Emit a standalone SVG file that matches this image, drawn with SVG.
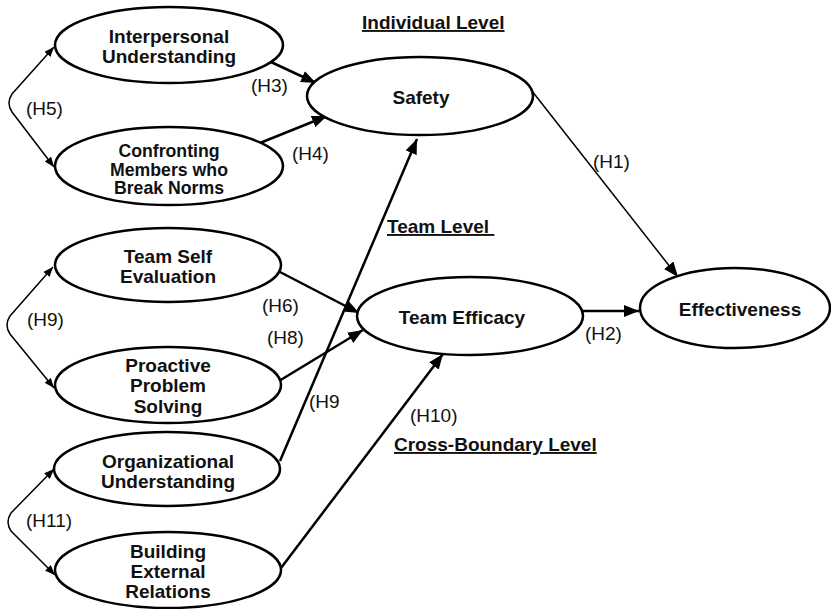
<svg xmlns="http://www.w3.org/2000/svg" width="831" height="609" viewBox="0 0 831 609">
<style>
.node ellipse{fill:#fff;stroke:#000;stroke-width:2.5}
.nt{font-family:"Liberation Sans",Arial,sans-serif;font-weight:bold;font-size:19px;text-anchor:middle;fill:#111}
.lb{font-family:"Liberation Sans",Arial,sans-serif;font-size:19px;fill:#111}
.hd{font-family:"Liberation Sans",Arial,sans-serif;font-weight:bold;font-size:19px;fill:#111;text-decoration:underline;white-space:pre}
.c{fill:none;stroke:#000;stroke-width:2.5}
.thin{fill:none;stroke:#000;stroke-width:1.5}
</style>
<defs>
<marker id="ah" markerUnits="userSpaceOnUse" markerWidth="16" markerHeight="12" refX="15" refY="6" orient="auto"><path d="M0,0 L15,6 L0,12 z" fill="#000"/></marker>
<marker id="ahs" markerUnits="userSpaceOnUse" markerWidth="10" markerHeight="8" refX="10" refY="4" orient="auto-start-reverse"><path d="M0,0 L10,4 L0,8 z" fill="#000"/></marker>
</defs>
<rect width="831" height="609" fill="#fff"/>
<g id="connectors">
<line class="c" x1="271" y1="62" x2="316" y2="83" marker-end="url(#ah)"/>
<line class="c" x1="260" y1="143" x2="327" y2="116" marker-end="url(#ah)"/>
<line class="c" x1="280" y1="461" x2="417" y2="139" marker-end="url(#ah)"/>
<line class="thin" x1="532" y1="91" x2="678" y2="277" marker-end="url(#ah)"/>
<line class="c" x1="583" y1="311" x2="639" y2="311" marker-end="url(#ah)"/>
<line class="c" x1="280" y1="272" x2="359" y2="313" marker-end="url(#ah)"/>
<line class="c" x1="279" y1="381" x2="363" y2="330" marker-end="url(#ah)"/>
<line class="c" x1="281" y1="568" x2="443" y2="354" marker-end="url(#ah)"/>
<path class="thin" d="M54,47 L12,94 Q6,103 12,112 L54,167" marker-start="url(#ahs)" marker-end="url(#ahs)"/>
<path class="thin" d="M53,267 L10,316 Q4,325 10,334 L54,388" marker-start="url(#ahs)" marker-end="url(#ahs)"/>
<path class="thin" d="M54,469 L11,513 Q5,522 11,531 L55,575" marker-start="url(#ahs)" marker-end="url(#ahs)"/>
</g>
<g id="interpersonal" class="node"><ellipse cx="169" cy="45" rx="114" ry="38"/><text class="nt" x="169" y="43">Interpersonal</text><text class="nt" x="169" y="63">Understanding</text></g>
<g id="confronting" class="node"><ellipse cx="169" cy="166" rx="114" ry="39"/><text class="nt" x="169" y="157" style="font-size:17.7px">Confronting</text><text class="nt" x="169" y="176" style="font-size:17.7px">Members who</text><text class="nt" x="169" y="194" style="font-size:17.7px">Break Norms</text></g>
<g id="safety" class="node"><ellipse cx="420" cy="96" rx="113" ry="39"/><text class="nt" x="421" y="104">Safety</text></g>
<g id="effectiveness" class="node"><ellipse cx="735" cy="308" rx="95" ry="40"/><text class="nt" x="740" y="316">Effectiveness</text></g>
<g id="teamefficacy" class="node"><ellipse cx="470" cy="316" rx="113" ry="39"/><text class="nt" x="462" y="324">Team Efficacy</text></g>
<g id="teamself" class="node"><ellipse cx="168" cy="265" rx="113" ry="37"/><text class="nt" x="168" y="263">Team Self</text><text class="nt" x="168" y="283">Evaluation</text></g>
<g id="proactive" class="node"><ellipse cx="168" cy="385" rx="113" ry="38"/><text class="nt" x="168" y="372">Proactive</text><text class="nt" x="168" y="392">Problem</text><text class="nt" x="168" y="413">Solving</text></g>
<g id="organizational" class="node"><ellipse cx="167" cy="469" rx="113" ry="37"/><text class="nt" x="168" y="468">Organizational</text><text class="nt" x="168" y="488">Understanding</text></g>
<g id="building" class="node"><ellipse cx="168" cy="570" rx="113" ry="38"/><text class="nt" x="168" y="558">Building</text><text class="nt" x="168" y="578">External</text><text class="nt" x="168" y="598">Relations</text></g>
<g id="labels">
<text class="lb" x="251" y="92">(H3)</text>
<text class="lb" x="26" y="115">(H5)</text>
<text class="lb" x="292" y="160">(H4)</text>
<text class="lb" x="593" y="168">(H1)</text>
<text class="lb" x="585" y="340">(H2)</text>
<text class="lb" x="262" y="312">(H6)</text>
<text class="lb" x="267" y="344">(H8)</text>
<text class="lb" x="27" y="326">(H9)</text>
<text class="lb" x="309" y="408">(H9</text>
<text class="lb" x="410" y="422">(H10)</text>
<text class="lb" x="26" y="527">(H11)</text>
<text class="hd" x="362" y="29">Individual Level</text>
<text class="hd" x="387" y="233">Team Level </text>
<text class="hd" x="394" y="451">Cross-Boundary Level</text>
</g>
</svg>
